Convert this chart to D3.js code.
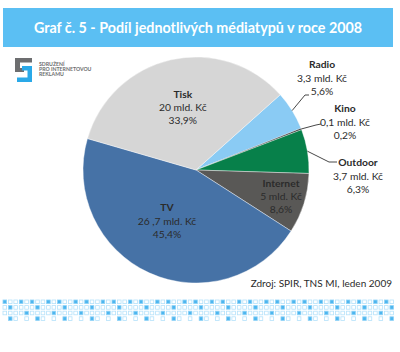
<!DOCTYPE html>
<html><head><meta charset="utf-8">
<script src="https://cdn.jsdelivr.net/npm/d3@7"></script>
<style>body{margin:0;background:#fff}svg{display:block}text{font-family:Lato,"Open Sans",sans-serif}</style>
</head><body><script>
// ---- data ----
const categories = ["Radio","Kino","Outdoor","Internet","TV","Tisk"];
const amountLabels = ["3,3","0,1","3,7","5","26 ,7","20"];
const percentValues = [5.6,0.2,6.3,8.6,45.4,33.9];
const percentLabels = ["5,6%","0,2%","6,3%","8,6%","45,4%","33,9%"];
const unit = " mld. Kč";
const title = "Graf č. 5 - Podíl jednotlivých médiatypů v roce 2008";
const sourceNote = "Zdroj: SPIR, TNS MI, leden 2009";
const logoLines = ["SDRUŽENÍ","PRO INTERNETOVOU","REKLAMU"];
const patternRows = ["■□□■□","□■□□□","□□□□■"," ■□ □"];

// ---- style / layout ----
const colors = {Radio:"#8acbf4",Kino:"#1b1b1b",Outdoor:"#07804a",Internet:"#595856",TV:"#4672a6",Tisk:"#d6d6d6"};
const W=400,H=352,cx=196,cy=170,R=113;
const startAngle = 48.2*Math.PI/180;
const layout = {
  Radio:{out:true,x:322,y:78,lead:[[305,95],[309,95]]},
  Kino:{out:true,x:345,y:122,lead:[[316,125],[321,124]]},
  Outdoor:{out:true,x:358,y:176,lead:[[329,162],[337,162]]},
  Internet:{r:89,dx:0,dy:0},
  TV:{r:58,dx:-5,dy:-2},
  Tisk:{r:64,dx:1,dy:0}
};

const svg = d3.select("body").append("svg").attr("width",W).attr("height",H);
svg.append("rect").attr("width",W).attr("height",H).attr("fill","#fff");

// title bar
svg.append("rect").attr("x",3).attr("y",8).attr("width",390).attr("height",39).attr("fill","#5bbff3");
svg.append("text").attr("x",198).attr("y",32.5).attr("text-anchor","middle")
  .attr("fill","#fff").attr("font-weight","bold").attr("font-size",14.3).text(title);

// logo
const logo = svg.append("g");
logo.append("path").attr("fill","#6d6e70")
  .attr("d","M15,58H32V62.5H20V68H24V72H15Z");
logo.append("path").attr("fill","#2aa9e8")
  .attr("d","M22,66H32V82H17V77.5H27.5V70.5H22Z");
logo.selectAll("text.logo").data(logoLines).join("text").attr("class","logo")
  .attr("x",39).attr("y",(d,i)=>65.5+i*5).attr("font-size",5.2).attr("fill","#6d6e70")
  .attr("font-weight","bold").text(d=>d);

// pie
const data = categories.map((c,i)=>({cat:c,amount:amountLabels[i],pct:percentValues[i],pctLabel:percentLabels[i]}));
const pie = d3.pie().value(d=>d.pct).sort(null).startAngle(startAngle).endAngle(startAngle+2*Math.PI);
const arcs = pie(data);
const arc = d3.arc().innerRadius(0).outerRadius(R);
const g = svg.append("g").attr("transform",`translate(${cx},${cy})`);
g.selectAll("path").data(arcs).join("path").attr("d",arc)
  .attr("fill",d=>colors[d.data.cat]).attr("stroke","#fff").attr("stroke-width",0.4);

// labels
const lg = svg.append("g").attr("font-size",10.3).attr("fill","#2b2b2b");
arcs.forEach(a=>{
  const L = layout[a.data.cat];
  const mid = (a.startAngle+a.endAngle)/2;
  let x,y;
  if(L.out){
    x=L.x; y=L.y;
    const ex = cx+R*Math.sin(mid), ey = cy-R*Math.cos(mid);
    const pts=[[ex,ey],...L.lead];
    svg.append("path").attr("d",d3.line()(pts)).attr("fill","none").attr("stroke","#333").attr("stroke-width",0.9);
  } else {
    x = cx+L.r*Math.sin(mid)+L.dx; y = cy-L.r*Math.cos(mid)+L.dy;
  }
  const t = lg.append("text").attr("text-anchor","middle");
  t.append("tspan").attr("x",x).attr("y",y-13.5+3.7).attr("font-weight","bold").text(a.data.cat);
  t.append("tspan").attr("x",x).attr("y",y+3.7).text(a.data.amount+unit);
  t.append("tspan").attr("x",x).attr("y",y+13+3.7).text(a.data.pctLabel);
});

// source
svg.append("text").attr("x",392).attr("y",287).attr("text-anchor","end")
  .attr("font-size",10).attr("fill","#2b2b2b").text(sourceNote);

// decorative pattern
const pg = svg.append("g");
const cols = d3.range(72);
patternRows.forEach((row,ri)=>{
  cols.forEach(ci=>{
    const ch = row[ci%row.length];
    if(ch===" ") return;
    pg.append("rect").attr("x",3+ci*5.45).attr("y",300+ri*5.6).attr("width",3.6).attr("height",3.6)
      .attr("fill",ch==="■"?"#4db6ef":"#fff").attr("stroke",ch==="■"?"#8fd3f7":"#b5e2fa").attr("stroke-width",0.8);
  });
});
</script></body></html>
